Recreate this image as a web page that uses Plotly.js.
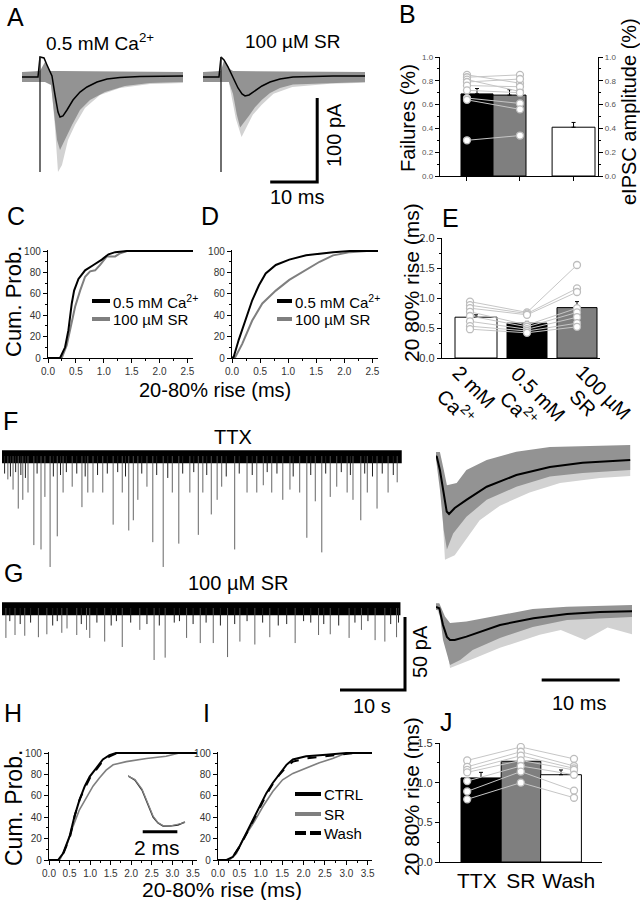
<!DOCTYPE html>
<html><head><meta charset="utf-8">
<script src="https://cdn.plot.ly/plotly-3.0.1.min.js"></script>
<style>html,body{margin:0;padding:0;background:#fff}#plot{width:640px;height:900px}</style>
</head><body><div id="plot"></div>
<script>
// ===== DATA =====
// A: evoked IPSCs (time ms, current pA)
const A1_mean_t = [0,3.4,3.83,4.68,5.32,5.96,6.38,7.02,7.66,8.09,8.72,9.57,10.85,12.34,13.83,15.96,18.1,20.85,25.1,34.26];
const A1_mean_pA = [0,0,23.8,22.6,14.3,6,1.2,-21.4,-41.7,-47.6,-46.4,-39.3,-27.4,-17.9,-11.9,-6,-2.4,-0.6,0.6,1.2];
const A1_dark_t = [0,3.83,4.89,5.96,8.09,34.26,34.26,27.23,21.91,17.66,14.47,12.34,10.64,9.15,8.09,7.45,6.81,6.17,4.89,0];
const A1_dark_pA = [6,7.1,17.9,7.1,7.1,6,-6,-7.1,-10.7,-17.9,-27.4,-39.3,-57.1,-75,-86.9,-75,-39.3,-9.5,-6,-6];
const A1_light_t = [6.17,7.02,7.66,8.51,9.79,11.28,13.4,16.6,20.85,27.23,34.26,34.26,6.17];
const A1_light_pA = [-6,-60,-113,-104.8,-75,-57.1,-36.9,-21.4,-13.1,-8.3,-7.1,-6,-6];
const A2_mean_t = [0,3.4,3.83,4.47,5.32,6.38,7.45,8.3,8.94,9.79,11.06,12.55,14.26,16.38,19.15,27.66,34.47];
const A2_mean_pA = [0,0,23.8,20.2,11.9,-1.2,-13.1,-20.2,-22.6,-21.4,-16.7,-10.7,-6,-2.4,0,1.2,1.2];
const A2_dark_t = [0,3.83,4.47,5.5,6.4,34.47,34.47,27.66,19.15,16.38,14.26,12.55,11.06,9.79,8.5,7.9,7.2,6.38,5.5,0];
const A2_dark_pA = [6,7.1,20,10,7.1,6,-6,-7.1,-9,-13,-19,-27,-36,-46,-56,-60,-45,-20,-6,-6];
const A2_light_t = [5.5,7,8.2,9.2,10.6,12.5,15,19,27,34.47,34.47,5.5];
const A2_light_pA = [-6,-50,-71.4,-60,-45,-33,-20,-12,-8,-7,-6,-6];
const A_artifact_t = 3.83, A_artifact_top = 23.8, A_artifact_bot = -113;
const A_scale = {ms:10, pA:100};

// B: failures
const B_means = [0.69, 0.68, 0.41];
const B_err = [0.045, 0.045, 0.04];
const B_ca = [0.85,0.83,0.81,0.79,0.76,0.72,0.655,0.64,0.30];
const B_sr = [0.78,0.85,0.71,0.815,0.75,0.70,0.61,0.56,0.34];
const B_ticks = [0.0,0.2,0.4,0.6,0.8,1.0];

// C, D: cumulative probability of 20-80% rise (ms, %)
const C_ca_t = [0,0.216,0.306,0.366,0.426,0.468,0.546,0.665,0.815,0.965,1.085,1.205,1.415,2.6];
const C_ca_p = [0,0,10,26,51,63,74,82,87,92,97,99,100,100];
const C_sr_t = [0,0.246,0.336,0.426,0.486,0.576,0.665,0.755,0.845,0.935,1.055,1.205,1.295,1.415,2.6];
const C_sr_p = [0,0,12,32,48,63,76,81,82,87,95,95,98,100,100];
const D_ca_t = [0,0.03,0.12,0.24,0.36,0.48,0.6,0.78,1.02,1.32,1.8,2.1,2.6];
const D_ca_p = [0,1,17,35,54,68,79,87,92,96,99,100,100];
const D_sr_t = [0,0.06,0.18,0.36,0.54,0.78,1.02,1.32,1.56,1.8,2.1,2.4,2.6];
const D_sr_p = [0,1,13,35,51,63,73,82,90,96,99,100,100];

// E: 20-80% rise (ms)
const E_labels = [["2 mM","Ca<sup>2+</sup>"],["0.5 mM","Ca<sup>2+</sup>"],["100 µM","SR"]];
const E_means = [0.68, 0.58, 0.84];
const E_err = [0.04, 0.03, 0.10];
const E_2mM = [0.94,0.88,0.83,0.77,0.70,0.61,0.53,0.48];
const E_05 = [0.76,0.74,0.72,0.55,0.52,0.48,0.45,0.42];
const E_SR = [1.55,1.16,1.10,0.83,0.76,0.68,0.58,0.52];

// F: TTX recording (time s, amplitude pA)
const F_dur = 61.5, F_noise = [4, -5];
const F_t = [0.9,1.7,2.5,3.2,4.0,4.9,6.0,6.6,7.4,8.5,9.4,10.8,12.3,13.2,14.0,15.5,17.1,18.5,19.5,20.2,20.9,22.3,23.2,24.8,26.2,27.2,28.9,30.2,30.9,32.2,33.1,33.8,35.8,37.7,39.2,40.2,41.5,43.2,44.3,45.8,46.9,48.2,49.2,50.5,51.5,53.1,54.0,55.2,56.2,57.7,59.4,60.8];
const F_amp = [-16,-23,-36,-30,-25,-61,-64,-28,-76,-55,-25,-21,-35,-25,-25,-25,-47,-25,-51,-44,-30,-21,-59,-76,-25,-60,-25,-54,-25,-40,-30,-21,-64,-25,-25,-20,-25,-30,-23,-25,-56,-31,-66,-28,-21,-25,-30,-44,-25,-36,-25,-18];
const F_small_t = [0.4,1.3,2.1,2.9,3.6,5.4,7.9,9.0,9.9,11.5,12.8,14.7,16.2,17.8,19.0,21.5,23.8,25.5,27.8,29.5,31.5,34.5,36.5,38.5,40.8,42.3,44.8,47.5,49.8,52.2,53.6,55.8,57.0,58.5,60.2];
const F_small_amp = [-12,-14,-11,-13,-15,-12,-14,-13,-11,-12,-14,-13,-12,-11,-14,-12,-13,-15,-12,-11,-13,-14,-12,-13,-11,-12,-14,-13,-12,-11,-13,-12,-14,-12,-13];
// F average (ms, pA)
const Fa_mean_t = [0,0.1,0.5,0.9,1.37,1.67,2.4,3.9,6.5,10.3,14.6,18.8,24.9];
const Fa_mean_pA = [0,-0.5,-9.6,-23,-38,-39.7,-35.6,-30,-21,-13,-7.5,-4.6,-2.7];
const Fa_dark_t = [0,0.5,1.0,1.4,2.65,3.9,6.5,10.3,14.6,18.8,24.9,24.9,18.8,14.6,10.3,6.5,3.9,2.2,1.4,1.0,0.5,0];
const Fa_dark_pA = [2.7,2.7,-9.6,-20,-18.5,-9.6,-2.7,3,6.2,6.8,7.5,-9.6,-11.6,-14,-21,-30,-41.6,-53,-64,-51,-23,-2];
const Fa_low_t = [0.5,1.15,2.4,3.85,5.6,8.2,12,15.9,21,24.9];
const Fa_low_pA = [-9.6,-71,-68,-57.5,-44,-34,-25,-18.5,-15,-13.7];

// G: SR recording
const G_dur = 61.3, G_noise = [4, -5];
const G_t = [0.6,2.0,3.5,5.6,6.9,9.2,10.0,11.5,13.0,13.5,15.8,18.5,21.2,23.4,25.1,28.4,30.5,32.5,34.7,36.6,38.9,41.2,45.1,48.7,50.5,53.4,55.3,57.4,58.9,60.7];
const G_amp = [-20.5,-18.5,-19,-20,-18,-17,-14,-18.5,-15,-20.5,-23,-26.7,-15,-35.6,-34,-20.5,-24,-24,-33.6,-23,-25,-20,-24,-18.5,-18,-20.5,-15,-22,-23,-20];
const G_small_t = [1.2,2.8,4.4,7.8,8.5,12.2,14.6,16.8,17.6,19.8,22.3,24.2,26.5,27.3,29.4,31.4,33.6,35.8,37.7,40.1,42.5,43.8,46.4,47.5,49.5,51.8,54.3,56.3,59.8,61.0];
const G_small_amp = [-9,-11,-10,-12,-9,-11,-10,-12,-9,-10,-11,-12,-10,-9,-11,-10,-12,-11,-9,-10,-12,-11,-9,-10,-11,-12,-10,-9,-11,-10];
const G_scale = {s:10, pA:50};
const Ga_mean_t = [0,0.42,0.9,1.4,1.8,2.4,3.9,8.2,12.5,16.8,21,25.3];
const Ga_mean_pA = [0,-0.9,-12.3,-20.5,-22.6,-22.6,-20.3,-12.3,-7.7,-4.8,-3.4,-2.9];
const Ga_dark_t = [0,0.42,1.15,1.8,3.9,8.2,12.4,16.8,25.3,25.3,16.8,12.4,8.2,4.7,3.1,1.8,0.9,0.42,0];
const Ga_dark_pA = [2.5,2.5,-6.6,-11,-10,-5.5,-1.4,0.2,1.4,-6.8,-8.9,-13.7,-21.2,-29.5,-36.3,-39.7,-22.6,-2,-2];
const Ga_low_t = [0.9,1.8,4.4,8.2,13.3,16,19.1,22,25.3];
const Ga_low_pA = [-12.3,-41.8,-36.3,-28,-19,-15.8,-22.6,-14,-19];
const Ga_scale_ms = 10;

// H, I: cumulative probability
const H_ctrl_t = [0,0.22,0.34,0.5,0.62,0.74,0.87,0.99,1.15,1.31,1.47,1.63,3.6];
const H_ctrl_p = [0,0,6,22,41,56,69,78,86,94,98,100,100];
const H_wash_t = [0,0.24,0.36,0.52,0.63,0.75,0.88,1.0,1.16,1.32,1.48,1.65,3.6];
const H_wash_p = [0,0,7,23,42,57,68,77,85,93,97,100,100];
const H_sr_t = [0,0.26,0.42,0.58,0.74,0.91,1.07,1.23,1.39,1.56,1.88,2.37,2.85,3.17,3.6];
const H_sr_p = [0,0,12.5,31,47,59,69,77,84,89,92,95,97,100,100];
const Hin_t = [0,0.4,0.81,1.16,1.45,1.73,2.02,2.43,2.89,3.29];
const Hin_ctrl = [1.0,0.92,0.72,0.42,0.18,0.06,0,0,0.02,0.08];
const Hin_sr = [1.0,0.93,0.74,0.44,0.2,0.07,0.01,0.0,0.03,0.07];
const I_ctrl_t = [0,0.2,0.35,0.5,0.66,0.82,0.97,1.13,1.28,1.44,1.6,1.75,2.06,2.53,3.0,3.6];
const I_ctrl_p = [0,0,3,12.5,25,37.5,50,62.5,72,81,89,94,97,98.5,100,100];
const I_wash_t = [0,0.2,0.35,0.5,0.66,0.82,0.97,1.13,1.28,1.44,1.6,1.75,2.06,2.53,3.0,3.2,3.6];
const I_wash_p = [0,0,3,12,24,37,49,61,71,80,87,92,95,97,98.5,100,100];
const I_sr_t = [0,0.27,0.43,0.58,0.82,1.05,1.28,1.51,1.75,2.06,2.37,2.68,3.0,3.6];
const I_sr_p = [0,0,6,19,34,50,64,75,81,86,91,95,100,100];

// J
const J_labels = ["TTX","SR","Wash"];
const J_means = [1.06, 1.27, 1.10];
const J_err = [0.07, 0.01, 0.06];
const J_TTX = [1.28,1.20,1.16,1.13,1.02,0.89,0.79];
const J_SR = [1.45,1.39,1.34,1.28,1.21,1.14,1.00];
const J_Wash = [1.30,1.21,1.18,1.16,1.10,0.90,0.81];

// ===== BUILD =====
const W=640,H=900;
const FONT='Liberation Sans, Arial, Helvetica, sans-serif';
const GRAY='#7f7f7f', DGRAY='#939393', LGRAY='#d2d2d2', PTLINE='#c6c6c6';
const dX=(a,b)=>[a/W,b/W];
const dY=(t,b)=>[1-b/H,1-t/H];
const xr=n=>n===1?'x':'x'+n, yr=n=>n===1?'y':'y'+n;
const traces=[];
const L={width:W,height:H,margin:{l:0,r:0,t:0,b:0,pad:0},paper_bgcolor:'#fff',plot_bgcolor:'rgba(0,0,0,0)',
  showlegend:false,font:{family:FONT,color:'#000'},annotations:[],shapes:[]};
function setAx(kind,n,o){L[kind+(n===1?'':n)]=o;}
function hid(dom,range){return {domain:dom,range:range,visible:false,fixedrange:true,showgrid:false,zeroline:false};}
function vis(dom,range,extra){return Object.assign({domain:dom,range:range,showline:true,linecolor:'#000',linewidth:1.2,
  ticks:'outside',ticklen:4,tickwidth:1,tickcolor:'#000',showgrid:false,zeroline:false,fixedrange:true,
  tickfont:{family:FONT,size:10,color:'#333'}},extra||{});}
function line(x,y,n,m,color,width,dash){traces.push({type:'scatter',mode:'lines',x:x,y:y,xaxis:xr(n),yaxis:yr(m),
  line:{color:color,width:width,dash:dash||'solid'},hoverinfo:'skip',connectgaps:false});}
function poly(x,y,n,m,color){traces.push({type:'scatter',mode:'lines',x:x,y:y,xaxis:xr(n),yaxis:yr(m),fill:'toself',
  fillcolor:color,line:{width:0,color:color},hoverinfo:'skip'});}
// region between a lower envelope and the mean trace
function band(lowT,lowY,meanT,meanY,n,m,color){
  poly(lowT.concat(meanT.slice().reverse()),lowY.concat(meanY.slice().reverse()),n,m,color);
}
function spikes(ts,amps){const x=[],y=[];ts.forEach((t,i)=>{x.push(t,t,null);y.push(0,amps[i],null);});return {x,y};}
function pairs(groups,xs,n,m){
  for(let i=0;i<groups[0].length;i++){
    traces.push({type:'scatter',mode:'lines+markers',x:xs,y:groups.map(g=>g[i]),xaxis:xr(n),yaxis:yr(m),
      line:{color:PTLINE,width:1},marker:{symbol:'circle',size:7,color:'#fff',line:{color:'#bdbdbd',width:1.3}},hoverinfo:'skip'});
  }
}
function bars(xs,ys,widths,colors,err,n,m){
  traces.push({type:'bar',x:xs,y:ys,width:widths,xaxis:xr(n),yaxis:yr(m),
    marker:{color:colors,line:{color:'#000',width:1}},
    error_y:{type:'data',symmetric:false,array:err,arrayminus:err.map(()=>0),color:'#000',thickness:1,width:2},hoverinfo:'skip'});
}
function txt(text,x,y,size,opt){L.annotations.push(Object.assign({text:text,x:x/W,y:1-y/H,xref:'paper',yref:'paper',
  showarrow:false,xanchor:'center',yanchor:'middle',font:{family:FONT,size:size,color:'#000'}},opt||{}));}
function seg(x0,x1,y,color,w){L.shapes.push({type:'line',xref:'paper',yref:'paper',x0:x0/W,x1:x1/W,y0:1-y/H,y1:1-y/H,line:{color:color,width:w}});}

// --- A ---
setAx('xaxis',1,hid(dX(22,183),[0,34.26])); setAx('yaxis',1,hid(dY(50,200),[-146.4,32.1]));
setAx('xaxis',2,hid(dX(203,365),[0,34.47])); setAx('yaxis',2,hid(dY(50,200),[-146.4,32.1]));
poly(A1_light_t,A1_light_pA,1,1,LGRAY); poly(A1_dark_t,A1_dark_pA,1,1,DGRAY);
line(A1_mean_t,A1_mean_pA,1,1,'#000',1.5);
line([A_artifact_t,A_artifact_t],[A_artifact_top,A_artifact_bot],1,1,'#222',1.3);
poly(A2_light_t,A2_light_pA,2,2,LGRAY); poly(A2_dark_t,A2_dark_pA,2,2,DGRAY);
line(A2_mean_t,A2_mean_pA,2,2,'#000',1.5);
line([A_artifact_t,A_artifact_t],[A_artifact_top,A_artifact_bot],2,2,'#222',1.3);
{const tEnd=24.3,yBot=-125; line([tEnd-A_scale.ms,tEnd,tEnd],[yBot,yBot,yBot+A_scale.pA],2,2,'#000',3);}

// --- B ---
const Bx=[1.138,2.138,4.108], Bpt=[0.83,2.46];
setAx('xaxis',3,vis(dX(440,598),[0,4.86],{anchor:'y3',tickvals:[0.83,2.46,4.108],showticklabels:false}));
const Byax={anchor:'x3',tickvals:B_ticks,ticktext:B_ticks.map(v=>v.toFixed(1)),tickfont:{family:FONT,size:8,color:'#555'},
  minor:{dtick:0.1,ticklen:2,tickcolor:'#000',ticks:'outside'}};
setAx('yaxis',3,vis(dY(57,176),[0,1],Byax));
setAx('yaxis',4,vis(dY(57,176),[0,1],Object.assign({},Byax,{overlaying:'y3',side:'right'})));
bars(Bx,B_means,[0.985,1.015,1.32],['#000',GRAY,'#fff'],B_err,3,3);
pairs([B_ca,B_sr],Bpt,3,3);
traces.push({type:'scatter',mode:'markers',x:[0],y:[0],xaxis:'x3',yaxis:'y4',marker:{opacity:0},hoverinfo:'skip'});

// --- C, D ---
const cumY={tickvals:[0,20,40,60,80,100],minor:{dtick:10,ticklen:2,tickcolor:'#000',ticks:'outside'}};
const cumX={tickvals:[0,0.5,1,1.5,2,2.5],ticktext:['0.0','0.5','1.0','1.5','2.0','2.5'],minor:{dtick:0.25,ticklen:2,tickcolor:'#000',ticks:'outside'}};
setAx('xaxis',4,vis(dX(48,193),[0,2.6],Object.assign({anchor:'y5'},cumX)));
setAx('yaxis',5,vis(dY(250,358),[0,101],Object.assign({},cumY,{anchor:'x4'})));
setAx('xaxis',5,vis(dX(232,378),[0,2.6],Object.assign({anchor:'y6'},cumX)));
setAx('yaxis',6,vis(dY(250,358),[0,101],Object.assign({},cumY,{anchor:'x5'})));
line(C_sr_t,C_sr_p,4,5,GRAY,2); line(C_ca_t,C_ca_p,4,5,'#000',2);
line(D_sr_t,D_sr_p,5,6,GRAY,2); line(D_ca_t,D_ca_p,5,6,'#000',2);

// --- E ---
const Ex=[0.68,1.7,2.7], Ept=[0.56,1.7,2.7];
setAx('xaxis',6,vis(dX(442,600),[0,3.16],{anchor:'y7',showticklabels:false,ticks:''}));
setAx('yaxis',7,vis(dY(238,358),[0,2],{anchor:'x6',tickvals:[0,0.5,1,1.5,2],ticktext:['0.0','0.5','1.0','1.5','2.0'],
  tickfont:{family:FONT,size:11,color:'#333'},minor:{dtick:0.25,ticklen:2,tickcolor:'#000',ticks:'outside'}}));
bars(Ex,E_means,[0.84,0.8,0.8],['#fff','#000',GRAY],E_err,6,7);
pairs([E_2mM,E_05,E_SR],Ept,6,7);

// --- F ---
setAx('xaxis',7,hid(dX(2,402),[0,61.54])); setAx('yaxis',8,hid(dY(440,575),[-81.5,11]));
poly([0,F_dur,F_dur,0],[F_noise[0],F_noise[0],F_noise[1],F_noise[1]],7,8,'#000');
{const s=spikes(F_t,F_amp); line(s.x,s.y,7,8,'#555',0.9);}
{const s=spikes(F_small_t,F_small_amp); line(s.x,s.y,7,8,'#222',1);}
setAx('xaxis',8,hid(dX(436,632),[0,25.13])); setAx('yaxis',9,hid(dY(440,575),[-81.5,11]));
band(Fa_low_t,Fa_low_pA,Fa_mean_t,Fa_mean_pA,8,9,LGRAY); poly(Fa_dark_t,Fa_dark_pA,8,9,DGRAY);
line(Fa_mean_t,Fa_mean_pA,8,9,'#000',2);

// --- G ---
setAx('xaxis',9,hid(dX(2,410),[0,62.77])); setAx('yaxis',10,hid(dY(595,700),[-63,8.9]));
poly([0,G_dur,G_dur,0],[G_noise[0],G_noise[0],G_noise[1],G_noise[1]],9,10,'#000');
{const s=spikes(G_t,G_amp); line(s.x,s.y,9,10,'#555',0.9);}
{const s=spikes(G_small_t,G_small_amp); line(s.x,s.y,9,10,'#222',1);}
{const tEnd=62.0,yBot=-56.2; line([tEnd-G_scale.s,tEnd,tEnd],[yBot,yBot,yBot+G_scale.pA],9,10,'#000',3);}
setAx('xaxis',10,hid(dX(436,632),[0,25.13])); setAx('yaxis',11,hid(dY(595,700),[-63.7,8.2]));
band(Ga_low_t,Ga_low_pA,Ga_mean_t,Ga_mean_pA,10,11,LGRAY); poly(Ga_dark_t,Ga_dark_pA,10,11,DGRAY);
line(Ga_mean_t,Ga_mean_pA,10,11,'#000',2);
{const t0=13.55; line([t0,t0+Ga_scale_ms],[-50,-50],10,11,'#000',3);}

// --- H, I ---
const cumX2={tickvals:[0,0.5,1,1.5,2,2.5,3,3.5],ticktext:['0.0','0.5','1.0','1.5','2.0','2.5','3.0','3.5'],minor:{dtick:0.25,ticklen:2,tickcolor:'#000',ticks:'outside'}};
setAx('xaxis',11,vis(dX(49,197),[0,3.6],Object.assign({anchor:'y12'},cumX2)));
setAx('yaxis',12,vis(dY(752,860),[0,101],Object.assign({},cumY,{anchor:'x11'})));
line(H_sr_t,H_sr_p,11,12,GRAY,1.6); line(H_ctrl_t,H_ctrl_p,11,12,'#000',2); line(H_wash_t,H_wash_p,11,12,'#000',2,'dash');
setAx('xaxis',12,hid(dX(128,186),[0,3.35])); setAx('yaxis',13,hid(dY(770,835),[-0.18,1.12]));
line(Hin_t,Hin_ctrl,12,13,'#333',1.5); line(Hin_t,Hin_sr,12,13,'#888',1.2);
line([0.85,2.85],[-0.114,-0.114],12,13,'#000',3);
setAx('xaxis',13,vis(dX(218,372),[0,3.6],Object.assign({anchor:'y14'},cumX2)));
setAx('yaxis',14,vis(dY(752,860),[0,101],Object.assign({},cumY,{anchor:'x13'})));
line(I_sr_t,I_sr_p,13,14,GRAY,1.6); line(I_ctrl_t,I_ctrl_p,13,14,'#000',2); line(I_wash_t,I_wash_p,13,14,'#000',2,'dash');

// --- J ---
const Jx=[1.025,2.025,3.025], Jpt=[0.68,2.02,3.35];
setAx('xaxis',14,vis(dX(440,602),[0,4.05],{anchor:'y15',tickvals:[0.92,2.02,3.22],ticktext:J_labels,ticks:'',
  tickfont:{family:FONT,size:21,color:'#000'}}));
setAx('yaxis',15,vis(dY(743,862),[0,1.5],{anchor:'x14',tickvals:[0,0.5,1,1.5],ticktext:['0.0','0.5','1.0','1.5'],
  tickfont:{family:FONT,size:11,color:'#333'},minor:{dtick:0.25,ticklen:2,tickcolor:'#000',ticks:'outside'}}));
bars(Jx,J_means,[1.0,0.99,1.02],['#000',GRAY,'#fff'],J_err,14,15);
pairs([J_TTX,J_SR,J_Wash],Jpt,14,15);

// --- text ---
[['A',15,17],['B',407,14],['C',16,216],['D',210,216],['E',450,218],['F',10,421],['G',13,573],['H',13,713],['I',206,713],['J',446,722]]
  .forEach(a=>txt(a[0],a[1],a[2],25));
txt('0.5 mM Ca<sup>2+</sup>',100,42,19); txt('100 µM SR',292,42,19);
txt('100 pA',334,135,20,{textangle:-90}); txt('10 ms',297,197,20);
txt('Failures (%)',408,118,20,{textangle:-90}); txt('eIPSC amplitude (%)',629,112,20,{textangle:-90});
txt('Cum. Prob.',13,302,22,{textangle:-90}); txt('20-80% rise (ms)',215,390,20);
txt('20 80% rise (ms)',411,283,21,{textangle:-90});
const Elab=[[474,387,457,406],[538,394,520,408],[603,392,583,403]];
E_labels.forEach((l,i)=>{txt(l[0],Elab[i][0],Elab[i][1],20,{textangle:45});txt(l[1],Elab[i][2],Elab[i][3],20,{textangle:45});});
txt('TTX',233,437,20); txt('100 µM SR',238,583,20);
txt('50 pA',420,652,20,{textangle:-90}); txt('10 s',372,706,20); txt('10 ms',579,703,20);
txt('Cum. Prob.',14,808,23,{textangle:-90}); txt('20-80% rise (ms)',222,889,21);
txt('2 ms',157,847,21);
txt('20 80% rise (ms)',411,797,21,{textangle:-90});
// legends
seg(92,110,301,'#000',4); txt('0.5 mM Ca<sup>2+</sup>',111,301,15,{xanchor:'left'});
seg(92,110,319,GRAY,4); txt('100 µM SR',111,319,15,{xanchor:'left'});
seg(277,292,301,'#000',4); txt('0.5 mM Ca<sup>2+</sup>',293,301,15,{xanchor:'left'});
seg(277,292,319,GRAY,4); txt('100 µM SR',293,319,15,{xanchor:'left'});
seg(295,321,794,'#000',4); txt('CTRL',322,794,15,{xanchor:'left'});
seg(295,321,814,GRAY,4); txt('SR',322,814,15,{xanchor:'left'});
seg(295,306,833,'#000',4); seg(310,321,833,'#000',4); txt('Wash',322,833,15,{xanchor:'left'});

Plotly.newPlot('plot',traces,L,{staticPlot:true,displayModeBar:false});
</script></body></html>
